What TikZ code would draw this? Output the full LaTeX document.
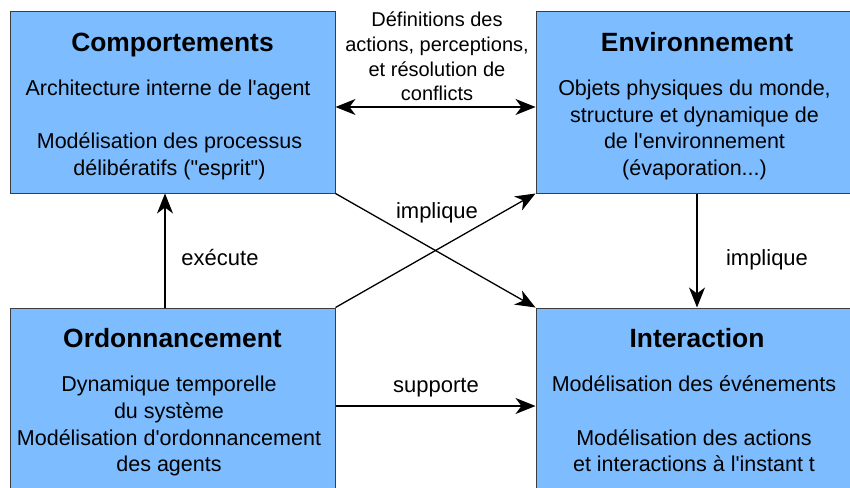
\documentclass[tikz,border=0pt]{standalone}
\usepackage{fontspec}
\setmainfont{Liberation Sans}
\newfontfamily\lsans{Liberation Sans}
\usetikzlibrary{arrows.meta}
\definecolor{boxblue}{RGB}{125,189,255}
\definecolor{boxline}{RGB}{60,60,60}
\tikzset{
  box/.style={draw=boxline, line width=1pt, fill=boxblue, rectangle, inner sep=0pt},
  title/.style={anchor=base, inner sep=0pt, font=\lsans\fontsize{26.4}{30}\selectfont\bfseries},
  body/.style={anchor=base, inner sep=0pt, font=\lsans\fontsize{21.5}{26}\selectfont},
  lab/.style={anchor=base, inner sep=0pt, font=\lsans\fontsize{20}{24}\selectfont},
  elab/.style={anchor=base, inner sep=0pt, font=\lsans\fontsize{22}{26}\selectfont},
  conn/.style={line width=1.3pt, -{Stealth[length=20pt, width=16pt, inset=6pt]}},
  dconn/.style={line width=1.3pt, {Stealth[length=20pt, width=16pt, inset=6pt]}-{Stealth[length=20pt, width=16pt, inset=6pt]}}
}
\begin{document}
\begin{tikzpicture}[x=1pt,y=-1pt]
\useasboundingbox (0,0) rectangle (850,487);
\begin{scope}
\clip (0,0) rectangle (850,487);
% boxes
\node[box, minimum width=325pt, minimum height=181pt] (comp) at (172.5,102.5) {};
\node[box, minimum width=322pt, minimum height=181pt] (env) at (697,102.5) {};
\node[box, minimum width=325pt, minimum height=181pt] (ord) at (172.5,398.5) {};
\node[box, minimum width=322pt, minimum height=181pt] (int) at (697,398.5) {};
\end{scope}

% Comportements
\node[title] (compT) at (172.5,51.7) {Comportements};
\node[body] (compA) at (168,95) {Architecture interne de l'agent};
\node[body] (compB) at (169.5,148.3) {Modélisation des processus};
\node[body] (compC) at (169.5,175) {délibératifs ("esprit")};

% Environnement
\node[title] (envT) at (697,51.7) {Environnement};
\node[body] (envA) at (694.5,95.5) {Objets physiques du monde,};
\node[body] (envB) at (694.5,122) {structure et dynamique de};
\node[body] (envC) at (694.5,148.3) {de l'environnement};
\node[body] (envD) at (694.5,175) {(évaporation...)};

% Ordonnancement
\node[title] (ordT) at (172.5,347.3) {Ordonnancement};
\node[body] (ordA) at (169,391) {Dynamique temporelle};
\node[body] (ordB) at (169,418.3) {du système};
\node[body] (ordC) at (169,445) {Modélisation d'ordonnancement};
\node[body] (ordD) at (169,471.7) {des agents};

% Interaction
\node[title] (intT) at (697,347.3) {Interaction};
\node[body] (intA) at (694,391) {Modélisation des événements};
\node[body] (intB) at (694,445) {Modélisation des actions};
\node[body] (intC) at (694,471.7) {et interactions à l'instant t};

% connectors
\draw[dconn] ([yshift=-4.5pt]comp.east) -- ([yshift=-4.5pt]env.west);
\draw[conn] ([xshift=-7.5pt]ord.north) -- ([xshift=-7.5pt]comp.south);
\draw[conn] (ord.north east) -- (env.south west);
\draw[conn] (comp.south east) -- (int.north west);
\draw[conn] (env.south) -- (int.north);
\draw[conn] ([yshift=-7.5pt]ord.east) -- ([yshift=-7.5pt]int.west);

% labels
\node[lab] (defA) at (437,26.7) {Définitions des};
\node[lab] (defB) at (437,51.5) {actions, perceptions,};
\node[lab] (defC) at (437,76) {et résolution de};
\node[lab] (defD) at (437,100.3) {conflicts};
\node[elab] (execl) at (220,265) {exécute};
\node[elab] (impl1) at (437,218.3) {implique};
\node[elab] (impl2) at (767,265) {implique};
\node[elab] (supp) at (436,392) {supporte};
\end{tikzpicture}
\end{document}
